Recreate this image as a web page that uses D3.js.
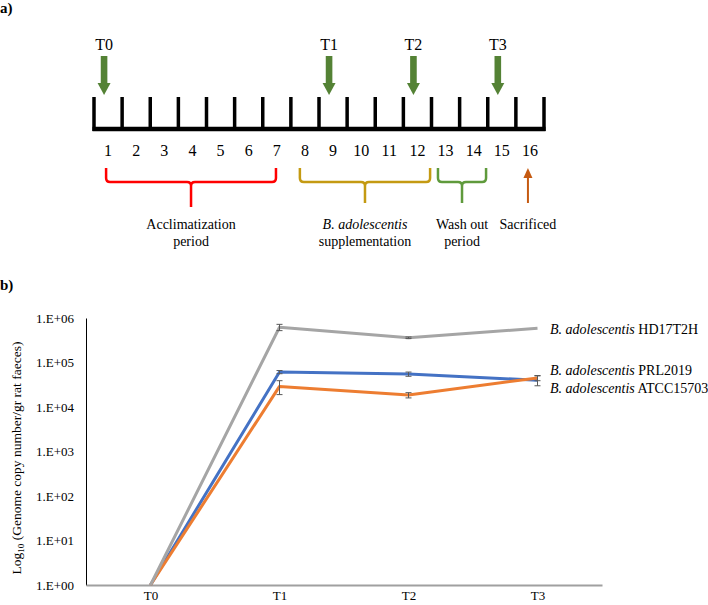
<!DOCTYPE html>
<html><head><meta charset="utf-8">
<script src="https://cdn.jsdelivr.net/npm/d3@7"></script>
<style>body{margin:0;background:#fff}</style>
</head><body><svg id="c" width="708" height="605" font-family="Liberation Serif, Times New Roman, serif"></svg>
<script>
const SERIF = "Liberation Serif, Times New Roman, serif";
// ---------- Panel a data ----------
const days = d3.range(1, 17);
const timepointLabels = ["T0", "T1", "T2", "T3"];
const timepointDays = [1, 9, 12, 15];
const periods = [
  {label: ["Acclimatization", "period"], italic: false, from: 0.93, to: 6.97, color: "#ff0000"},
  {label: ["B. adolescentis", "supplementation"], italic: true, from: 7.82, to: 12.45, color: "#c49a12"},
  {label: ["Wash out", "period"], italic: false, from: 12.73, to: 14.44, color: "#5f9a3c"}
];
const sacrificeDay = 16;
const sacrificeLabel = "Sacrificed";

// ---------- Panel b data ----------
const categories = ["T0", "T1", "T2", "T3"];
const seriesNames = ["PRL2019", "ATCC15703", "HD17T2H"];
const seriesColors = ["#4472c4", "#ed7d31", "#a5a5a5"];
const valuesPRL = [1, 61000, 55000, 40000];
const errPRL = [0, 5000, 6000, 10000];
const valuesATCC = [1, 29000, 18500, 45000];
const errATCC = [0, 10000, 2500, 6000];
const valuesHD = [1, 620000, 360000, 590000];
const errHD = [0, 100000, 15000, 0];
const yTickValues = [1, 10, 100, 1000, 10000, 100000, 1000000];

const svg = d3.select("#c");

// ================= Panel a =================
svg.append("text").attr("x", 0).attr("y", 13).attr("font-size", 15).attr("font-weight", "bold").attr("font-family", SERIF).text("a)");

const xd = d3.scaleLinear().domain([0, 16]).range([94, 544]);   // tick boundaries
const dayMid = d => xd(d - 0.5);
const tl = svg.append("g").attr("font-family", SERIF);
tl.append("line").attr("x1", xd(0) - 1.5).attr("x2", xd(16) + 1.5).attr("y1", 129).attr("y2", 129)
  .attr("stroke", "#000").attr("stroke-width", 4.5);
tl.selectAll("line.tk").data(d3.range(0, 17)).join("line").attr("class", "tk")
  .attr("x1", d => xd(d)).attr("x2", d => xd(d)).attr("y1", 97).attr("y2", 131)
  .attr("stroke", "#000").attr("stroke-width", 3.5);
tl.selectAll("text.day").data(days).join("text").attr("class", "day")
  .attr("x", d => dayMid(d)).attr("y", 156).attr("text-anchor", "middle").attr("font-size", 16).text(d => d);

const green = "#548235";
timepointDays.forEach((d, i) => {
  const x = dayMid(d) - 4;
  tl.append("text").attr("x", x).attr("y", 50).attr("text-anchor", "middle").attr("font-size", 16).text(timepointLabels[i]);
  tl.append("rect").attr("x", x - 3.3).attr("y", 56).attr("width", 6.6).attr("height", 28).attr("fill", green);
  tl.append("path").attr("d", `M${x - 6.5},83 L${x + 6.5},83 L${x},95 Z`).attr("fill", green);
});

periods.forEach(p => {
  const xa = dayMid(p.from), x2a = dayMid(p.to);
  const cx = (xa + x2a) / 2;
  const top = 168, hy = 182, bot = p.from < 1 ? 207 : 203, r = 4;
  const path = `M${xa},${top} L${xa},${hy - r} Q${xa},${hy} ${xa + r},${hy} L${cx - r},${hy} Q${cx},${hy} ${cx},${hy + r} L${cx},${bot}
    M${cx},${hy + r} Q${cx},${hy} ${cx + r},${hy} L${x2a - r},${hy} Q${x2a},${hy} ${x2a},${hy - r} L${x2a},${top}`;
  tl.append("path").attr("d", path).attr("fill", "none").attr("stroke", p.color).attr("stroke-width", 2.5);
  p.label.forEach((t, j) => {
    tl.append("text").attr("x", cx).attr("y", 229 + j * 17).attr("text-anchor", "middle").attr("font-size", 14)
      .attr("font-style", p.italic && j === 0 ? "italic" : "normal").text(t);
  });
});
{
  const x = dayMid(sacrificeDay) - 2;
  const orange = "#c55a11";
  tl.append("line").attr("x1", x).attr("x2", x).attr("y1", 203).attr("y2", 176).attr("stroke", orange).attr("stroke-width", 2);
  tl.append("path").attr("d", `M${x - 4.5},178 L${x + 4.5},178 L${x},168 Z`).attr("fill", orange);
  tl.append("text").attr("x", x).attr("y", 229).attr("text-anchor", "middle").attr("font-size", 14).text(sacrificeLabel);
}

// ================= Panel b =================
svg.append("text").attr("x", 0).attr("y", 290).attr("font-size", 15).attr("font-weight", "bold").attr("font-family", SERIF).text("b)");

const x = d3.scalePoint().domain(categories).range([86, 602]).padding(0.5);
const y = d3.scaleLog().domain([1, 1e6]).range([585, 318]);

const yAxis = svg.append("g").attr("transform", "translate(86,0)")
  .call(d3.axisLeft(y).tickValues(yTickValues).tickSize(0).tickPadding(12)
    .tickFormat(d => "1.E+" + String(Math.round(Math.log10(d))).padStart(2, "0")));
yAxis.attr("font-family", SERIF).attr("font-size", 13);
yAxis.select(".domain").attr("stroke", "#000").attr("stroke-width", 1);
yAxis.selectAll("text").attr("fill", "#000");

const xAxis = svg.append("g").attr("transform", "translate(0,585)")
  .call(d3.axisBottom(x).tickSize(0).tickPadding(6));
xAxis.attr("font-family", SERIF).attr("font-size", 13);
xAxis.select(".domain").attr("stroke", "#a0a0a0").attr("stroke-width", 2);
xAxis.selectAll("text").attr("fill", "#000");

const yt = svg.append("text").attr("transform", "translate(21,458) rotate(-90)").attr("text-anchor", "middle")
  .attr("font-size", 13.5).attr("font-family", SERIF);
yt.append("tspan").text("Log");
yt.append("tspan").attr("font-size", 9).attr("dy", 3).text("10");
yt.append("tspan").attr("dy", -3).text(" (Genome copy number/gr rat faeces)");

const allValues = [valuesPRL, valuesATCC, valuesHD];
const allErr = [errPRL, errATCC, errHD];
const line = d3.line().x((d, i) => x(categories[i])).y(d => y(d));
allValues.forEach((vals, s) => {
  svg.append("path").datum(vals).attr("d", line).attr("fill", "none")
    .attr("stroke", seriesColors[s]).attr("stroke-width", 3).attr("stroke-linejoin", "round");
});
allValues.forEach((vals, s) => {
  vals.forEach((v, i) => {
    const e = allErr[s][i];
    if (!e) return;
    const cx = x(categories[i]);
    const y1 = y(v + e), y2 = y(Math.max(v - e, 1));
    const g = svg.append("g").attr("stroke", "#595959").attr("stroke-width", 1);
    g.append("line").attr("x1", cx).attr("x2", cx).attr("y1", y1).attr("y2", y2);
    g.append("line").attr("x1", cx - 3).attr("x2", cx + 3).attr("y1", y1).attr("y2", y1);
    g.append("line").attr("x1", cx - 3).attr("x2", cx + 3).attr("y1", y2).attr("y2", y2);
  });
});

const labelY = [370, 388, 329];
seriesNames.forEach((n, s) => {
  const t = svg.append("text").attr("x", 550).attr("y", labelY[s] + 5).attr("font-size", 14).attr("font-family", SERIF);
  t.append("tspan").attr("font-style", "italic").text("B. adolescentis");
  t.append("tspan").text(" " + n);
});
</script></body></html>
